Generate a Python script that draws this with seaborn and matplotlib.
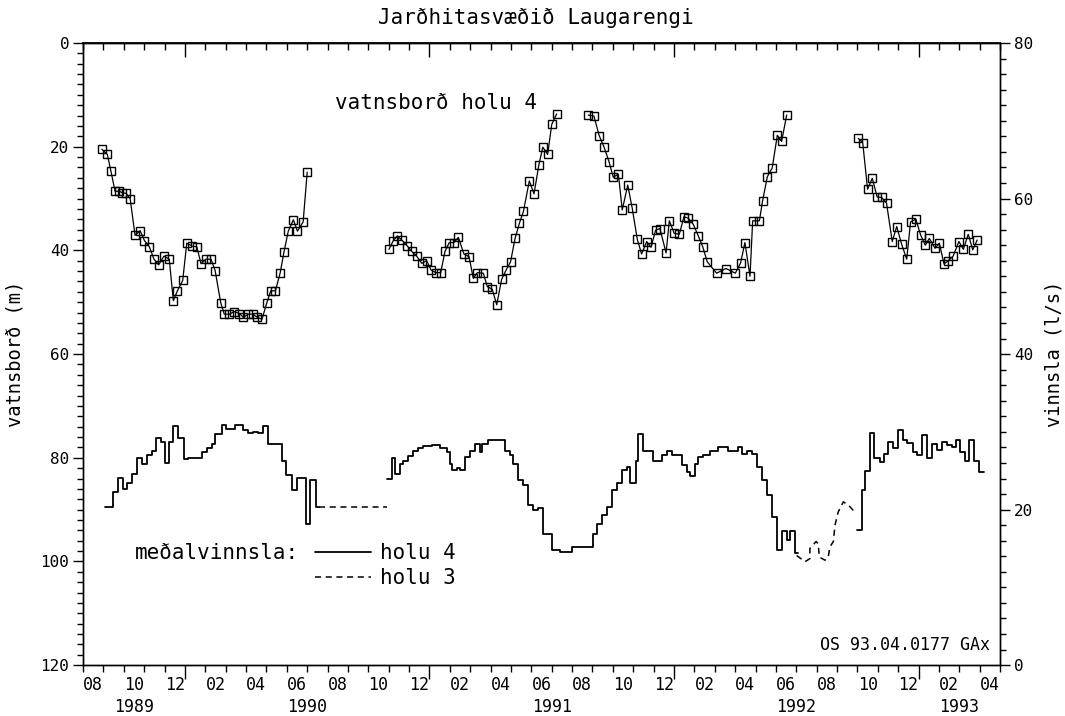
# Laugarengi geothermal field: water level in well 4 and average production
import numpy as np
import seaborn as sns
import matplotlib.pyplot as plt
from matplotlib.lines import Line2D
from matplotlib.transforms import blended_transform_factory

# time is counted in months from the start of August 1989
month_labels = ['08', '10', '12', '02', '04', '06', '08', '10', '12', '02', '04', '06',
                '08', '10', '12', '02', '04', '06', '08', '10', '12', '02', '04']
year_labels = ['1989', '1990', '1991', '1992', '1993']
year_label_pos = [2.5, 11, 23, 35, 43]
year_starts = [5, 17, 29, 41]

# water level in well 4 (m), four measuring periods
wl_t_1 = [0.92, 1.19, 1.36, 1.57, 1.78, 1.93, 2.11, 2.31, 2.55, 2.80, 3.01, 3.25, 3.48, 3.71, 3.97,
          4.23, 4.43, 4.63, 4.89, 5.09, 5.36, 5.58, 5.79, 6.02, 6.28, 6.48, 6.76, 6.93, 7.18, 7.42,
          7.67, 7.87, 8.11, 8.33, 8.55, 8.78, 9.01, 9.21, 9.44, 9.67, 9.86, 10.07, 10.32, 10.52,
          10.80, 11.00]
wl_m_1 = [20.5, 21.5, 24.6, 28.6, 28.6, 28.9, 29.0, 30.0, 37.1, 36.2, 38.1, 39.3, 41.7, 42.8, 41.1,
          41.7, 49.7, 47.8, 45.8, 38.6, 39.2, 39.3, 42.6, 41.7, 41.7, 43.9, 50.2, 52.3, 52.3, 51.8,
          52.2, 52.9, 52.3, 52.3, 52.9, 53.3, 50.2, 47.8, 47.8, 44.4, 40.3, 36.3, 34.1, 36.3,
          34.5, 24.9]
wl_t_2 = [15.01, 15.23, 15.42, 15.64, 15.92, 16.13, 16.37, 16.62, 16.86, 17.08, 17.31, 17.55, 17.76,
          17.97, 18.20, 18.42, 18.69, 18.94, 19.15, 19.35, 19.64, 19.84, 20.08, 20.30, 20.54, 20.76,
          20.98, 21.20, 21.41, 21.61, 21.90, 22.13, 22.37, 22.56, 22.80, 23.00, 23.24]
wl_m_2 = [39.8, 38.1, 37.2, 38.0, 39.2, 40.2, 41.1, 42.5, 42.0, 43.8, 44.3, 44.3, 40.2,
          38.5, 38.5, 37.5, 40.7, 41.2, 45.4, 44.3, 44.4, 47.0, 47.5, 50.5, 45.6, 43.8,
          42.2, 37.7, 34.8, 32.5, 26.6, 29.1, 23.5, 20.1, 21.5, 15.7, 13.7]
wl_t_3 = [24.79, 25.07, 25.33, 25.56, 25.81, 26.02, 26.27, 26.46, 26.73, 26.95, 27.20, 27.41, 27.66,
          27.87, 28.10, 28.31, 28.61, 28.77, 29.01, 29.26, 29.49, 29.70, 29.95, 30.19, 30.41, 30.63,
          31.09, 31.55, 32.01, 32.27, 32.48, 32.73, 32.86, 33.19, 33.35, 33.58, 33.82, 34.07, 34.28,
          34.53]
wl_m_3 = [13.9, 14.1, 17.9, 20.0, 22.9, 25.9, 25.3, 32.2, 27.4, 31.9, 37.9, 40.7, 38.3,
          39.4, 36.1, 35.8, 40.5, 34.3, 36.7, 36.9, 33.5, 33.8, 35.0, 37.2, 39.3, 42.2,
          44.4, 43.5, 44.4, 42.4, 38.5, 45.0, 34.3, 34.3, 30.4, 25.8, 24.1, 17.8, 19.0,
          13.9]
wl_t_4 = [38.04, 38.26, 38.50, 38.73, 38.97, 39.19, 39.43, 39.71, 39.93, 40.17, 40.42, 40.61, 40.87,
          41.10, 41.33, 41.53, 41.81, 42.02, 42.25, 42.46, 42.70, 42.98, 43.20, 43.44, 43.66, 43.88]
wl_m_4 = [18.4, 19.2, 28.2, 26.1, 29.7, 29.8, 30.9, 38.3, 35.4, 38.8, 41.7, 34.5, 34.0,
          37.0, 39.0, 37.7, 39.6, 38.6, 42.6, 42.0, 41.1, 38.3, 39.8, 36.9, 39.9, 38.0]

# average production from well 4 (l/s): step start times, values and end of each period
p4_t_1 = [1.08, 1.49, 1.73, 1.95, 2.14, 2.39, 2.63, 2.88, 3.12, 3.37, 3.58, 3.81, 4.02, 4.24, 4.43,
          4.68, 4.96, 5.17, 5.82, 6.07, 6.31, 6.48, 6.80, 7.02, 7.46, 7.87, 8.11, 8.36, 8.60, 8.85,
          9.09, 9.75, 9.96, 10.24, 10.48, 10.94, 11.14, 11.43]
p4_v_1 = [20.3, 22.3, 24.1, 22.7, 23.4, 24.6, 26.7, 25.9, 27.0, 27.5, 29.2, 28.7, 26.0, 28.7, 30.7,
          29.2, 26.5, 26.7, 27.4, 27.9, 28.5, 29.7, 30.9, 30.4, 30.9, 30.2, 29.8, 30.0, 29.8, 30.7,
          28.5, 26.2, 24.4, 22.5, 24.1, 18.2, 23.8, 20.3]
p4_end_1 = 11.6
p4_t_2 = [14.90, 15.15, 15.31, 15.55, 15.72, 15.96, 16.21, 16.45, 16.70, 17.11, 17.52, 17.85, 18.01,
          18.09, 18.34, 18.50, 18.74, 18.99, 19.23, 19.48, 19.60, 19.89, 20.13, 20.71, 20.95, 21.11,
          21.36, 21.60, 21.85, 22.10, 22.34, 22.59, 23.00, 23.41, 23.98, 25.01, 25.24, 25.48, 25.73,
          25.94, 26.19, 26.43, 26.68, 26.84, 27.13, 27.25, 27.49, 27.98, 28.39, 28.64, 28.88, 29.38,
          29.62, 29.78, 30.03, 30.19, 30.44, 30.77, 31.17, 31.66, 32.15, 32.32, 32.56, 32.81, 33.06,
          33.30, 33.55, 33.79, 34.04, 34.28, 34.53, 34.69, 34.94]
p4_v_2 = [23.9, 26.6, 24.6, 25.9, 26.2, 26.9, 27.6, 27.9, 28.2, 28.3, 27.9, 27.4, 25.9,
          25.1, 25.3, 25.1, 26.8, 27.6, 28.4, 27.4, 28.5, 28.9, 29.0, 27.6, 27.0, 25.9,
          23.8, 23.2, 20.6, 19.9, 20.2, 16.9, 14.8, 14.6, 15.2, 16.9, 18.2, 19.3, 20.4,
          22.5, 23.4, 25.1, 25.5, 23.4, 26.2, 29.7, 27.6, 26.2, 27.0, 27.6, 27.0, 25.7,
          24.9, 24.3, 25.9, 26.8, 27.0, 27.6, 28.0, 27.6, 28.1, 27.2, 27.6, 27.2, 25.5,
          23.8, 21.9, 19.1, 14.8, 17.2, 16.1, 17.2, 14.4]
p4_end_2 = 35.10
p4_t_3 = [37.96, 38.21, 38.37, 38.62, 38.81, 39.11, 39.30, 39.51, 39.76, 40.01, 40.22, 40.45, 40.74,
          40.94, 41.18, 41.40, 41.64, 41.89, 42.13, 42.38, 42.62, 42.82, 43.03, 43.28, 43.49, 43.72,
          43.98]
p4_v_3 = [17.4, 22.5, 25.0, 29.9, 26.6, 26.1, 27.2, 28.7, 27.9, 30.3, 29.0, 28.6, 27.4,
          27.0, 29.6, 26.6, 28.5, 27.7, 28.7, 28.3, 28.0, 28.9, 27.4, 26.2, 28.9, 26.2,
          24.9]
p4_end_3 = 44.21

# average production from well 3 (l/s)
p3_t_1 = [11.6, 14.9]
p3_v_1 = [20.3, 20.3]
p3_t_2 = [35.02, 35.43, 35.67, 35.67, 35.97, 36.08, 36.13, 36.41, 36.57, 36.65, 36.82, 36.90,
          37.06, 37.31, 37.55, 37.80, 37.96]
p3_v_2 = [14.1, 13.3, 13.7, 15.0, 15.9, 15.6, 13.9, 13.5, 13.9, 15.2, 15.9, 18.0,
          19.7, 21.0, 20.6, 19.9, 19.7]

sns.set_theme(style='ticks')
plt.rcParams['font.family'] = ['DejaVu Sans Mono']
for k in ['axes.edgecolor', 'xtick.color', 'ytick.color', 'text.color', 'axes.labelcolor']:
    plt.rcParams[k] = 'black'

fig, ax = plt.subplots(figsize=(10.65, 7.16), dpi=100)
fig.subplots_adjust(left=0.078, right=0.939, bottom=0.071, top=0.94)
ax2 = ax.twinx()

# water level curves
for t, m in [(wl_t_1, wl_m_1), (wl_t_2, wl_m_2), (wl_t_3, wl_m_3), (wl_t_4, wl_m_4)]:
    sns.lineplot(x=t, y=m, ax=ax, color='black', lw=0.9, marker='s', markersize=5.5,
                 markerfacecolor='none', markeredgecolor='black', markeredgewidth=1.0,
                 estimator=None, sort=False)

# production, well 4 (steps)
for t, v, end in [(p4_t_1, p4_v_1, p4_end_1), (p4_t_2, p4_v_2, p4_end_2), (p4_t_3, p4_v_3, p4_end_3)]:
    sns.lineplot(x=t + [end], y=v + [v[-1]], ax=ax2, color='black', lw=1.3,
                 drawstyle='steps-post', estimator=None, sort=False)

# production, well 3 (dashed)
for t, v in [(p3_t_1, p3_v_1), (p3_t_2, p3_v_2)]:
    sns.lineplot(x=t, y=v, ax=ax2, color='black', lw=1.1, linestyle=(0, (4, 3)),
                 estimator=None, sort=False)

ax.set_xlim(0, 45)
ax.set_ylim(120, 0)
ax2.set_ylim(0, 80)

ax.set_yticks(np.arange(0, 121, 20))
ax.set_yticks(np.arange(0, 121, 2), minor=True)
ax2.set_yticks(np.arange(0, 81, 20))
ax2.set_yticks(np.arange(0, 81, 2), minor=True)
ax.set_xticks(year_starts)
ax.set_xticks(np.arange(0, 46), minor=True)

ax.tick_params(axis='x', which='major', length=10, width=1, direction='out', labelbottom=False)
ax.tick_params(axis='x', which='minor', length=5, width=1, direction='out')
for a in (ax, ax2):
    a.tick_params(axis='y', which='major', length=7, width=1, direction='out', labelsize=11.5, pad=3)
    a.tick_params(axis='y', which='minor', length=4, width=1, direction='out')

top = ax.secondary_xaxis('top')
top.set_xticks(year_starts)
top.set_xticks(np.arange(0, 46), minor=True)
top.tick_params(which='major', direction='in', length=10, width=1, labeltop=False)
top.tick_params(which='minor', direction='in', length=5, width=1)

for a in (ax, ax2):
    for s in a.spines.values():
        s.set_visible(True)
        s.set_linewidth(1.0)
        s.set_color('black')

# month and year labels under the axis
trans = blended_transform_factory(ax.transData, ax.transAxes)
for i, lab in enumerate(month_labels):
    ax.text(0.5 + 2 * i, -0.018, lab, transform=trans, ha='center', va='top', fontsize=12)
for pos, lab in zip(year_label_pos, year_labels):
    ax.text(pos, -0.052, lab, transform=trans, ha='center', va='top', fontsize=12)

ax.set_xlabel('')
ax.set_ylabel('vatnsborð (m)', fontsize=13.5)
ax.yaxis.set_label_coords(-0.064, 0.5)
ax2.set_ylabel('vinnsla (l/s)', fontsize=13.5, rotation=90)
ax2.yaxis.set_label_coords(1.049, 0.5)

fig.text(0.503, 0.975, 'Jarðhitasvæðið Laugarengi', ha='center', va='center', fontsize=15)
ax.text(0.275, 0.9035, 'vatnsborð holu 4', transform=ax.transAxes, ha='left', va='center', fontsize=15)
ax.text(0.989, 0.032, 'OS 93.04.0177 GAx', transform=ax.transAxes, ha='right', va='center', fontsize=12)

# legend for production
ax.text(0.0567, 0.180, 'meðalvinnsla:', transform=ax.transAxes, ha='left', va='center', fontsize=15)
handles = [Line2D([], [], color='black', lw=1.3),
           Line2D([], [], color='black', lw=1.1, linestyle=(0, (4, 3)))]
leg = ax2.legend(handles, ['holu 4', 'holu 3'], loc='upper left', bbox_to_anchor=(0.253, 0.196),
                 frameon=False, fontsize=15, handlelength=2.7, handletextpad=0.4,
                 labelspacing=0.25, borderpad=0, borderaxespad=0)

fig.savefig('out.png', dpi=100, facecolor='white')
